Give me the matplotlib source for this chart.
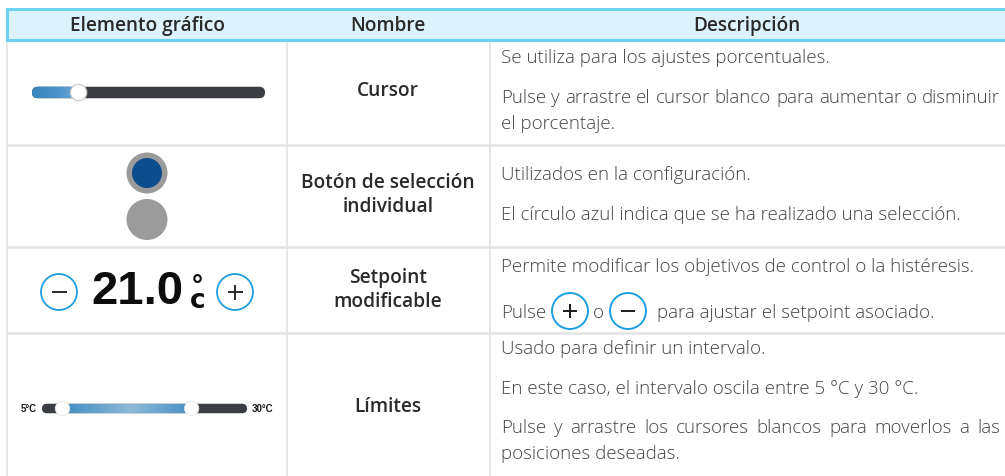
import numpy as np
import matplotlib
matplotlib.use("Agg")
import matplotlib.pyplot as plt
from matplotlib.patches import Circle, FancyBboxPatch, Rectangle
from matplotlib.colors import LinearSegmentedColormap

# ---------------- data (text content) ----------------
headers = ["Elemento gráfico", "Nombre", "Descripción"]
names = [["Cursor"],
         ["Botón de selección", "individual"],
         ["Setpoint", "modificable"],
         ["Límites"]]
desc_row1 = ["Se utiliza para los ajustes porcentuales.",
             "Pulse y arrastre el cursor blanco para aumentar o disminuir",
             "el porcentaje."]
desc_row2 = ["Utilizados en la configuración.",
             "El círculo azul indica que se ha realizado una selección."]
desc_row3 = ["Permite modificar los objetivos de control o la histéresis."]
desc_row3_parts = ["Pulse", "o", "para ajustar el setpoint asociado."]
desc_row4 = ["Usado para definir un intervalo.",
             "En este caso, el intervalo oscila entre 5 °C y 30 °C.",
             "Pulse y arrastre los cursores blancos para moverlos a las",
             "posiciones deseadas."]
setpoint_value = "21.0"
setpoint_unit = "°\nc"
range_labels = ["5°C", "30°C"]
slider_fraction = 0.2          # cursor position of the single slider
range_fractions = [0.1, 0.73]  # positions of the two range cursors

# ---------------- layout ----------------
W, H = 1005, 476
fig = plt.figure(figsize=(W / 100, H / 100), dpi=100)
ax = fig.add_axes([0, 0, 1, 1])
ax.set_xlim(0, W)
ax.set_ylim(H, 0)
ax.axis("off")

FONT = "Open Sans"
TXT = "#2a2a2a"
DESC = "#454545"
GRID = "#e3e3e3"

x_left, x_c1, x_c2 = 7, 287, 490
hdr_top, hdr_bot = 9, 40
row_y = [40, 145, 247, 333, 476]

# header
ax.add_patch(Rectangle((x_left, hdr_top), W - x_left + 5, hdr_bot - hdr_top,
                       facecolor="#dcf2fc", edgecolor="none", zorder=1))
ax.plot([x_left, W], [hdr_top, hdr_top], color="#6dd2f2", lw=2.2, zorder=2,
        solid_capstyle="butt")
ax.plot([x_left, W], [hdr_bot, hdr_bot], color="#6dd2f2", lw=2.2, zorder=2,
        solid_capstyle="butt")
ax.plot([x_left, x_left], [hdr_top, hdr_bot], color="#6dd2f2", lw=2.2, zorder=2)
for xc, h in zip([147, 388, 747], headers):
    ax.text(xc, 26, h, ha="center", va="center", fontsize=13.7,
            fontweight="semibold", color=TXT, family=FONT, zorder=3)

# grid
for xv in [x_left, x_c1, x_c2]:
    ax.plot([xv, xv], [hdr_bot + 1, H], color=GRID, lw=1.2, zorder=1)
for yv in row_y[1:-1]:
    ax.plot([x_left, W], [yv, yv], color=GRID, lw=1.8, zorder=1)

# names column
name_y = [[91], [183, 207], [278, 302], [407]]
for lines, ys in zip(names, name_y):
    for t, y in zip(lines, ys):
        ax.text(388, y, t, ha="center", va="center", fontsize=13.8,
                fontweight="semibold", color=TXT, family=FONT)

# descriptions
renderer = fig.canvas.get_renderer()
DX0, DX1 = 501, 1000
DFS = 13.5


def dtext(x, y, s, **kw):
    return ax.text(x, y, s, ha="left", va="center", fontsize=DFS,
                   fontweight="light", color=DESC, family=FONT, **kw)


def width_of(t):
    bb = t.get_window_extent(renderer=renderer)
    return bb.width


def justify(s, y):
    words = s.split(" ")
    ts = [dtext(0, y, w) for w in words]
    ws = [width_of(t) for t in ts]
    gap = (DX1 - DX0 - sum(ws)) / (len(words) - 1)
    x = DX0
    for t, w in zip(ts, ws):
        t.set_x(x)
        x += w + gap


dtext(DX0, 58, desc_row1[0])
justify(desc_row1[1], 98)
dtext(DX0, 124, desc_row1[2])

dtext(DX0, 175, desc_row2[0])
dtext(DX0, 215, desc_row2[1])

dtext(DX0, 267, desc_row3[0])
dtext(DX0, 313, desc_row3_parts[0])
dtext(593, 313, desc_row3_parts[1])
dtext(657, 313, desc_row3_parts[2])

dtext(DX0, 349, desc_row4[0])
dtext(DX0, 389, desc_row4[1])
justify(desc_row4[2], 428)
dtext(DX0, 454, desc_row4[3])

BLUE_RING = "#1c9fe2"


def pm_button(cx, cy, r, sign, lw_ring=1.3, lw_sign=1.4, arm=None):
    ax.add_patch(Circle((cx, cy), r, facecolor="white", edgecolor=BLUE_RING,
                        lw=lw_ring, zorder=4))
    a = arm if arm is not None else r * 0.42
    ax.plot([cx - a, cx + a], [cy, cy], color="#1a1a1a", lw=lw_sign, zorder=5,
            solid_capstyle="butt")
    if sign == "+":
        ax.plot([cx, cx], [cy - a, cy + a], color="#1a1a1a", lw=lw_sign,
                zorder=5, solid_capstyle="butt")


# description buttons
pm_button(570, 311, 18, "+", lw_ring=1.4, lw_sign=1.4, arm=7)
pm_button(628, 311, 18, "-", lw_ring=1.4, lw_sign=1.4, arm=7)

# ---------------- sliders ----------------
def slider(x0, x1, yc, th, fracs, grad_cmap):
    track = FancyBboxPatch((x0, yc - th / 2), x1 - x0, th,
                           boxstyle=f"round,pad=0,rounding_size={th/2}",
                           facecolor="#3a3e42", edgecolor="none", zorder=3)
    ax.add_patch(track)
    ks = [x0 + f * (x1 - x0) for f in fracs]
    if len(ks) == 1:
        ga, gb = x0, ks[0]
        clip = FancyBboxPatch((x0, yc - th / 2), ks[0] - x0 + th / 2, th,
                              boxstyle=f"round,pad=0,rounding_size={th/2}",
                              facecolor="none", edgecolor="none",
                              transform=ax.transData)
    else:
        ga, gb = ks[0], ks[1]
        clip = Rectangle((ga, yc - th / 2), gb - ga, th, facecolor="none",
                         edgecolor="none", transform=ax.transData)
    ax.add_patch(clip)
    grad = np.linspace(0, 1, 256).reshape(1, -1)
    im = ax.imshow(grad, cmap=grad_cmap, extent=[ga, gb + th / 2, yc + th / 2,
                                                 yc - th / 2],
                   aspect="auto", zorder=3.5, interpolation="bilinear")
    im.set_clip_path(clip)
    return ks


cmap1 = LinearSegmentedColormap.from_list("c1", ["#3a86bf", "#4b93c8",
                                                 "#7fb3dc"])
ks = slider(32, 265, 92.5, 11.5, [slider_fraction], cmap1)
ax.add_patch(Circle((ks[0], 92.5), 8.2, facecolor="white",
                    edgecolor="#c8c8c8", lw=0.8, zorder=5))

# ---------------- row 2: radio buttons ----------------
ax.add_patch(Circle((147, 173), 20.5, facecolor="#9b9b9b", edgecolor="none",
                    zorder=3))
ax.add_patch(Circle((147, 173), 15, facecolor="#0b4d8c", edgecolor="none",
                    zorder=4))
ax.add_patch(Circle((147, 219.5), 20.5, facecolor="#9b9b9b", edgecolor="none",
                    zorder=3))

# ---------------- row 3: setpoint ----------------
pm_button(59, 292, 18, "-", lw_ring=1.3, lw_sign=1.3, arm=7.5)
pm_button(235, 292, 18, "+", lw_ring=1.3, lw_sign=1.3, arm=7.5)
ax.text(137, 292.5, setpoint_value, ha="center", va="center", fontsize=34,
        fontweight="bold", color="#0d0d0d", family="Liberation Sans")
ax.text(197.5, 294, setpoint_unit, ha="center", va="center",
        multialignment="center", linespacing=0.38, fontsize=19,
        fontweight="bold", color="#0d0d0d", family="DejaVu Sans")

# ---------------- row 4: range slider ----------------
cmap4 = LinearSegmentedColormap.from_list("c4", ["#3f8bc3", "#8dbad8",
                                                 "#3f8bc3"])
ks4 = slider(42, 247, 408.5, 9.5, range_fractions, cmap4)
for k in ks4:
    ax.add_patch(Circle((k, 408.5), 7.2, facecolor="white",
                        edgecolor="#e6e6e6", lw=0.6, zorder=5))
ax.text(29, 409, range_labels[0], ha="center", va="center", fontsize=7,
        fontweight="bold", color="#1a1a1a", family="Liberation Sans")
ax.text(262.5, 409, range_labels[1], ha="center", va="center", fontsize=7,
        fontweight="bold", color="#1a1a1a", family="Liberation Sans")

ax.set_xlim(0, W)
ax.set_ylim(H, 0)
fig.savefig("out.png", dpi=100, facecolor="white")
